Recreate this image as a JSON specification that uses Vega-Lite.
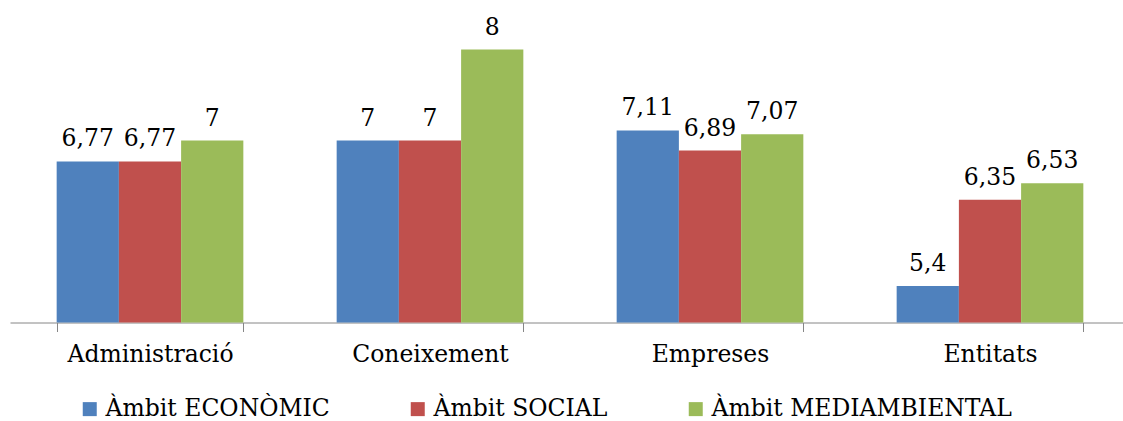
{
  "$schema": "https://vega.github.io/schema/vega-lite/v6.json",
  "width": 1113,
  "height": 318.5,
  "autosize": {"type": "none"},
  "padding": {"left": 10, "top": 4, "right": 0, "bottom": 98.5},
  "background": "white",
  "data": {
    "values": [
      {"grup": "Administració", "ambit": "Àmbit ECONÒMIC", "valor": 6.77},
      {"grup": "Administració", "ambit": "Àmbit SOCIAL", "valor": 6.77},
      {"grup": "Administració", "ambit": "Àmbit MEDIAMBIENTAL", "valor": 7},
      {"grup": "Coneixement", "ambit": "Àmbit ECONÒMIC", "valor": 7},
      {"grup": "Coneixement", "ambit": "Àmbit SOCIAL", "valor": 7},
      {"grup": "Coneixement", "ambit": "Àmbit MEDIAMBIENTAL", "valor": 8},
      {"grup": "Empreses", "ambit": "Àmbit ECONÒMIC", "valor": 7.11},
      {"grup": "Empreses", "ambit": "Àmbit SOCIAL", "valor": 6.89},
      {"grup": "Empreses", "ambit": "Àmbit MEDIAMBIENTAL", "valor": 7.07},
      {"grup": "Entitats", "ambit": "Àmbit ECONÒMIC", "valor": 5.4},
      {"grup": "Entitats", "ambit": "Àmbit SOCIAL", "valor": 6.35},
      {"grup": "Entitats", "ambit": "Àmbit MEDIAMBIENTAL", "valor": 6.53}
    ]
  },
  "encoding": {
    "x": {
      "field": "grup",
      "type": "nominal",
      "sort": ["Administració", "Coneixement", "Empreses", "Entitats"],
      "scale": {"range": [0, 1120], "paddingInner": 0.3333, "paddingOuter": 0.16667},
      "axis": {
        "title": null,
        "labelAngle": 0,
        "tickBand": "extent",
        "tickSize": 9,
        "tickColor": "#868686",
        "domainColor": "#868686",
        "labelFont": "DejaVu Serif",
        "labelFontSize": 23.5,
        "labelColor": "#000000",
        "labelPadding": 11,
        "grid": false
      }
    },
    "xOffset": {
      "field": "ambit",
      "type": "nominal",
      "sort": ["Àmbit ECONÒMIC", "Àmbit SOCIAL", "Àmbit MEDIAMBIENTAL"],
      "scale": {"paddingInner": 0, "paddingOuter": 0}
    },
    "y": {
      "field": "valor",
      "type": "quantitative",
      "scale": {"domain": [5, 8.5], "zero": false, "nice": false},
      "axis": null
    }
  },
  "layer": [
    {
      "mark": {"type": "bar", "clip": true},
      "encoding": {
        "color": {
          "field": "ambit",
          "type": "nominal",
          "sort": ["Àmbit ECONÒMIC", "Àmbit SOCIAL", "Àmbit MEDIAMBIENTAL"],
          "scale": {
            "domain": ["Àmbit ECONÒMIC", "Àmbit SOCIAL", "Àmbit MEDIAMBIENTAL"],
            "range": ["#4F81BD", "#C0504D", "#9BBB59"]
          },
          "legend": {
            "title": null,
            "orient": "none",
            "direction": "horizontal",
            "legendX": 68,
            "legendY": 393,
            "symbolType": "square",
            "symbolSize": 196,
            "symbolStrokeWidth": 0,
            "symbolOpacity": 1,
            "labelFont": "DejaVu Serif",
            "labelFontSize": 23.5,
            "labelColor": "#000000",
            "labelOffset": 4,
            "columnPadding": 76,
            "labelLimit": 400
          }
        }
      }
    },
    {
      "mark": {
        "type": "text",
        "font": "DejaVu Serif",
        "fontSize": 23.5,
        "color": "#000000",
        "baseline": "alphabetic",
        "dy": -15
      },
      "encoding": {
        "text": {"field": "valor", "type": "quantitative", "format": "~g"}
      }
    }
  ],
  "config": {
    "view": {"stroke": null},
    "locale": {
      "number": {"decimal": ",", "thousands": ".", "grouping": [3], "currency": ["", " €"]}
    }
  }
}
